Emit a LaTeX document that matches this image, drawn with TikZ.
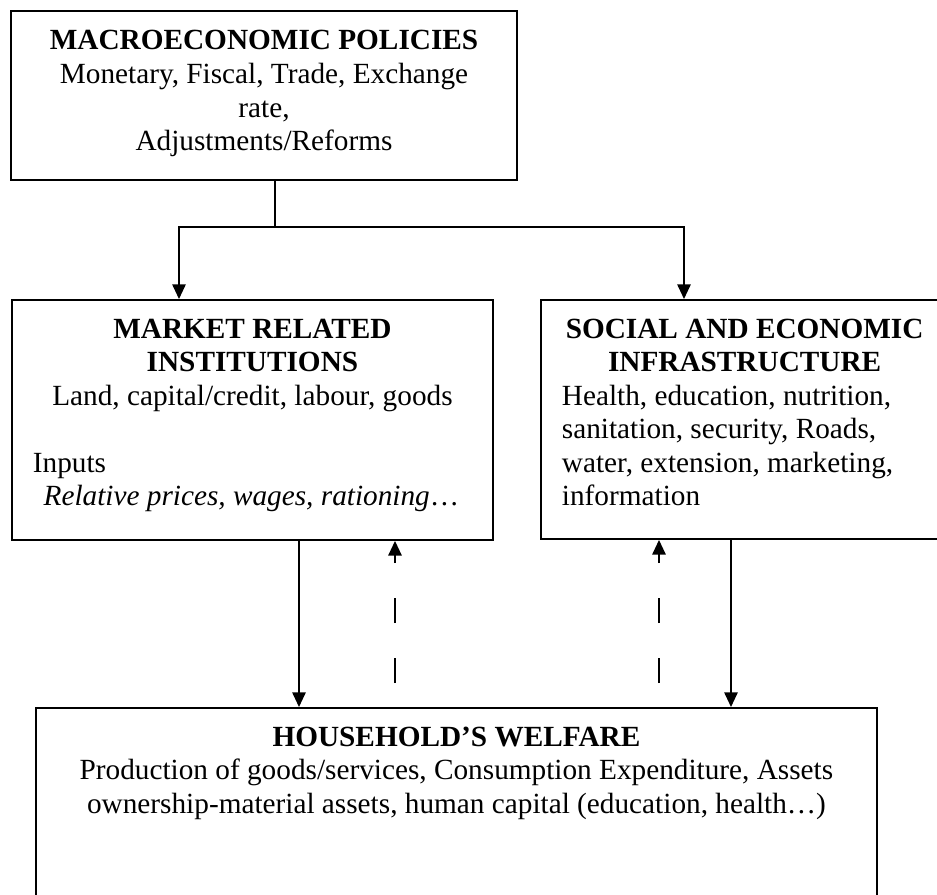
\documentclass[tikz,border=0pt]{standalone}
\usepackage{fontspec}
\setmainfont{Liberation Serif}
\usetikzlibrary{positioning,arrows.meta}

\begin{document}
\begin{tikzpicture}[
    x=0.41pt, y=-0.41pt,
    font=\fontsize{12}{13.75}\selectfont,
    panel/.style={draw, line width=0.8pt, inner sep=0pt, anchor=north west},
    arrow/.style={-{Triangle[length=6pt, width=5.5pt]}, line width=0.6pt},
    back/.style={arrow, dash pattern=on 10.25pt off 14.35pt}
]
\useasboundingbox (0,0) rectangle (937,895);
\clip (0,0) rectangle (937,895);

% Policy level
\node[panel] (macro) at (10,10) {\parbox[c][69.3pt][t]{207.5pt}{\centering
    \rule{0pt}{16pt}\textbf{MACROECONOMIC POLICIES}\\
    Monetary, Fiscal, Trade, Exchange\\
    rate,\\
    Adjustments/Reforms\par}};

% Institutions and infrastructure
\node[panel] (market) at (11,299) {\parbox[c][98.4pt][t]{197.2pt}{%
    {\centering\rule{0pt}{15.6pt}\textbf{MARKET RELATED}\\
    \textbf{INSTITUTIONS}\\
    Land, capital/credit, labour, goods\par}
    \vspace{\baselineskip}
    {\raggedright\hspace*{8.6pt}Inputs\\
    \hspace*{13pt}\textit{Relative prices, wages, rationing}…\par}}};
\node[panel] (infra) at (540,299) {\parbox[c][98pt][t]{167pt}{%
    {\centering\rule{0pt}{15.6pt}\textbf{SOCIAL AND ECONOMIC}\\
    \textbf{INFRASTRUCTURE}\par}
    {\raggedright\leftskip=8.6pt Health, education, nutrition,\\
    sanitation, security, Roads,\\
    water, extension, marketing,\\
    information\par}}};

% Household
\node[panel] (house) at (35,707) {\parbox[c][82pt][t]{344.8pt}{\centering
    \rule{0pt}{15.6pt}\textbf{HOUSEHOLD’S WELFARE}\\
    Production of goods/services, Consumption Expenditure, Assets\\
    ownership-material assets, human capital (education, health…)\par}};

% Arrows
\coordinate (split) at (275,227);
\coordinate (jmarket) at (179,227);
\coordinate (jinfra) at (684,227);
\coordinate (mdown) at (299,620);
\coordinate (mup) at (395,683);
\coordinate (iup) at (659,683);
\coordinate (idown) at (731,620);

\draw[line width=0.6pt] (split |- macro.south) -- (split);
\draw[arrow] (split) -| (jmarket |- market.north);
\draw[arrow] (split) -| (jinfra |- infra.north);
\draw[arrow] (mdown |- market.south) -- (mdown |- house.north);
\draw[back] (mup) -- (mup |- market.south);
\draw[back] (iup) -- (iup |- infra.south);
\draw[arrow] (idown |- infra.south) -- (idown |- house.north);
\end{tikzpicture}
\end{document}
